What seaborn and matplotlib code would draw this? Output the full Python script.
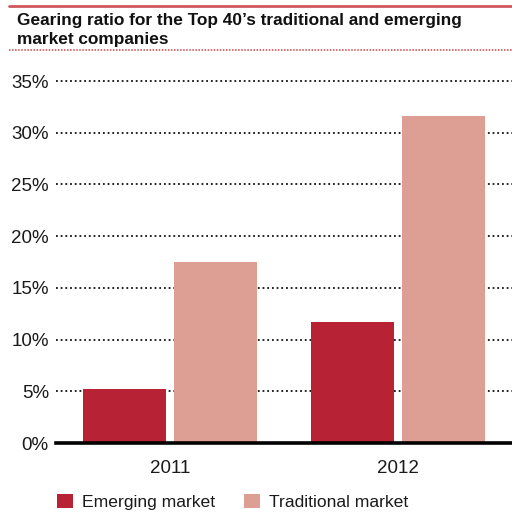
import matplotlib
matplotlib.use("Agg")
import matplotlib.pyplot as plt
from matplotlib.lines import Line2D
from matplotlib.patches import Patch
from matplotlib.ticker import FuncFormatter
import seaborn as sns
import pandas as pd

years = ["2011", "2012"]
series = ["Emerging market", "Traditional market"]
emerging = [5.2, 11.7]
traditional = [17.5, 31.6]
y_ticks = [0, 5, 10, 15, 20, 25, 30, 35]
title = "Gearing ratio for the Top 40\u2019s traditional and emerging\nmarket companies"

colors = {"Emerging market": "#b82235", "Traditional market": "#dd9f94"}

df = pd.DataFrame({
    "year": years * 2,
    "market": [series[0]] * len(years) + [series[1]] * len(years),
    "ratio": emerging + traditional,
})

sns.set_theme(style="white")
plt.rcParams["font.family"] = ["Liberation Sans", "DejaVu Sans"]

fig = plt.figure(figsize=(5.12, 5.15), dpi=100)
ax = fig.add_axes([0.109, 0.1398, 0.891, 0.7029])

sns.barplot(data=df, x="year", y="ratio", hue="market", order=years,
            hue_order=series, palette=colors, width=0.8, gap=0.09,
            saturation=1, ax=ax, legend=False, zorder=3, linewidth=0)

ax.set_xlim(-0.5, 1.5)
ax.set_ylim(0, 35)
ax.set_yticks(y_ticks)
ax.yaxis.set_major_formatter(FuncFormatter(lambda v, _: f"{v:.0f}%"))
ax.set_xlabel("")
ax.set_ylabel("")
ax.tick_params(axis="both", length=0, labelsize=13.5, colors="#1a1a1a")
ax.tick_params(axis="y", pad=5)
ax.tick_params(axis="x", pad=12)
for t in y_ticks[1:]:
    ax.axhline(t, color="#111111", lw=1.3, ls=(0, (1, 1.6)), zorder=1, clip_on=False)
for side in ["top", "right", "left"]:
    ax.spines[side].set_visible(False)
ax.spines["bottom"].set_color("black")
ax.spines["bottom"].set_linewidth(2.6)
ax.spines["bottom"].set_zorder(4)

# header rules and title
fig.add_artist(Line2D([9 / 512, 1], [1 - 6 / 515, 1 - 6 / 515],
                      transform=fig.transFigure, color="#d0575c", lw=2))
fig.add_artist(Line2D([9 / 512, 1], [1 - 50 / 515, 1 - 50 / 515],
                      transform=fig.transFigure, color="#c8454a", lw=1.1,
                      ls=(0, (1, 1))))
fig.text(17 / 512, 1 - 13 / 515, title, ha="left", va="top",
         fontsize=12.4, fontweight="bold", color="#111111", linespacing=1.3)

handles = [Patch(facecolor=colors[s], edgecolor="none") for s in series]
fig.legend(handles, series, loc="lower left", bbox_to_anchor=(57 / 512, 5 / 515),
           ncol=2, frameon=False, fontsize=12.6, handlelength=0.9,
           handleheight=0.9, handletextpad=0.5, columnspacing=1.7,
           borderpad=0, borderaxespad=0, labelcolor="#1a1a1a")

fig.savefig("out.png", dpi=100)
